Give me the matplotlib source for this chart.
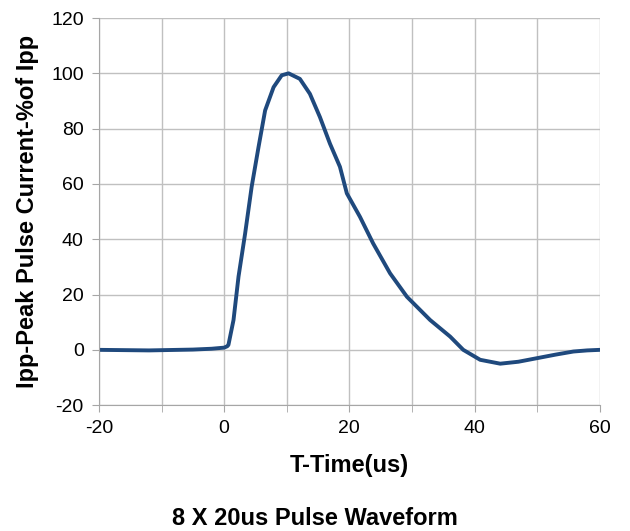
import matplotlib.pyplot as plt

# Waveform points (time in us, % of Ipp)
time_us = [-20, -12, -5, -2, 0, 0.5, 0.69, 1.5, 2.3, 3.35, 4.4, 5.5, 6.55, 7.9, 9.2,
           10.3, 12.1, 13.7, 15.3, 16.9, 18.5, 19.6, 21.7, 23.8, 26.5, 29.2, 32.9,
           36.1, 38.2, 40.9, 44.1, 47, 50, 53, 55.8, 58, 60]
current_pct = [0, -0.2, 0.1, 0.4, 0.8, 1.3, 1.8, 10.8, 26.5, 42, 59, 73.4, 86.6, 95, 99.3,
               100, 98, 92.6, 84.2, 74.6, 66.2, 56.6, 48.1, 38.5, 27.7, 19.2, 10.8,
               4.8, 0, -3.6, -5, -4.3, -3, -1.7, -0.6, -0.2, 0]

x_ticks = [-20, 0, 20, 40, 60]
y_ticks = [-20, 0, 20, 40, 60, 80, 100, 120]
x_labels = ['-20', '0', '20', '40', '60']
y_labels = ['-20', '0', '20', '40', '60', '80', '100', '120']

plt.rcParams['font.family'] = ['Liberation Sans', 'DejaVu Sans']

fig = plt.figure(figsize=(6.3, 5.31), dpi=100)
ax = fig.add_axes([0.157, 0.237, 0.795, 0.729])

ax.plot(time_us, current_pct, color='#1f497d', linewidth=2.8,
        solid_joinstyle='round', solid_capstyle='round')

ax.set_xlim(-20, 60)
ax.set_ylim(-20, 120)
ax.set_xticks(x_ticks, x_labels)
ax.set_yticks(y_ticks, y_labels)
ax.xaxis.set_minor_locator(plt.MultipleLocator(10))
ax.grid(True, which='both', color='#c0c0c0', linewidth=1)
ax.set_axisbelow(True)

for side in ['top', 'right']:
    ax.spines[side].set_visible(False)
for side in ['left', 'bottom']:
    ax.spines[side].set_color('#a6a6a6')
ax.tick_params(axis='both', which='major', labelsize=14, color='#a6a6a6', length=5)
ax.tick_params(axis='y', which='major', pad=6)
ax.tick_params(axis='x', which='major', pad=6)
ax.tick_params(axis='x', which='minor', color='#a6a6a6', length=5)

ax.set_xlabel('T-Time(us)', fontsize=17, fontweight='bold', labelpad=12)
ax.set_ylabel('Ipp-Peak Pulse Current-%of Ipp', fontsize=17, fontweight='bold', labelpad=9)
fig.text(0.5, 0.012, '8 X 20us Pulse Waveform', ha='center', fontsize=17, fontweight='bold')

plt.savefig('out.png')
